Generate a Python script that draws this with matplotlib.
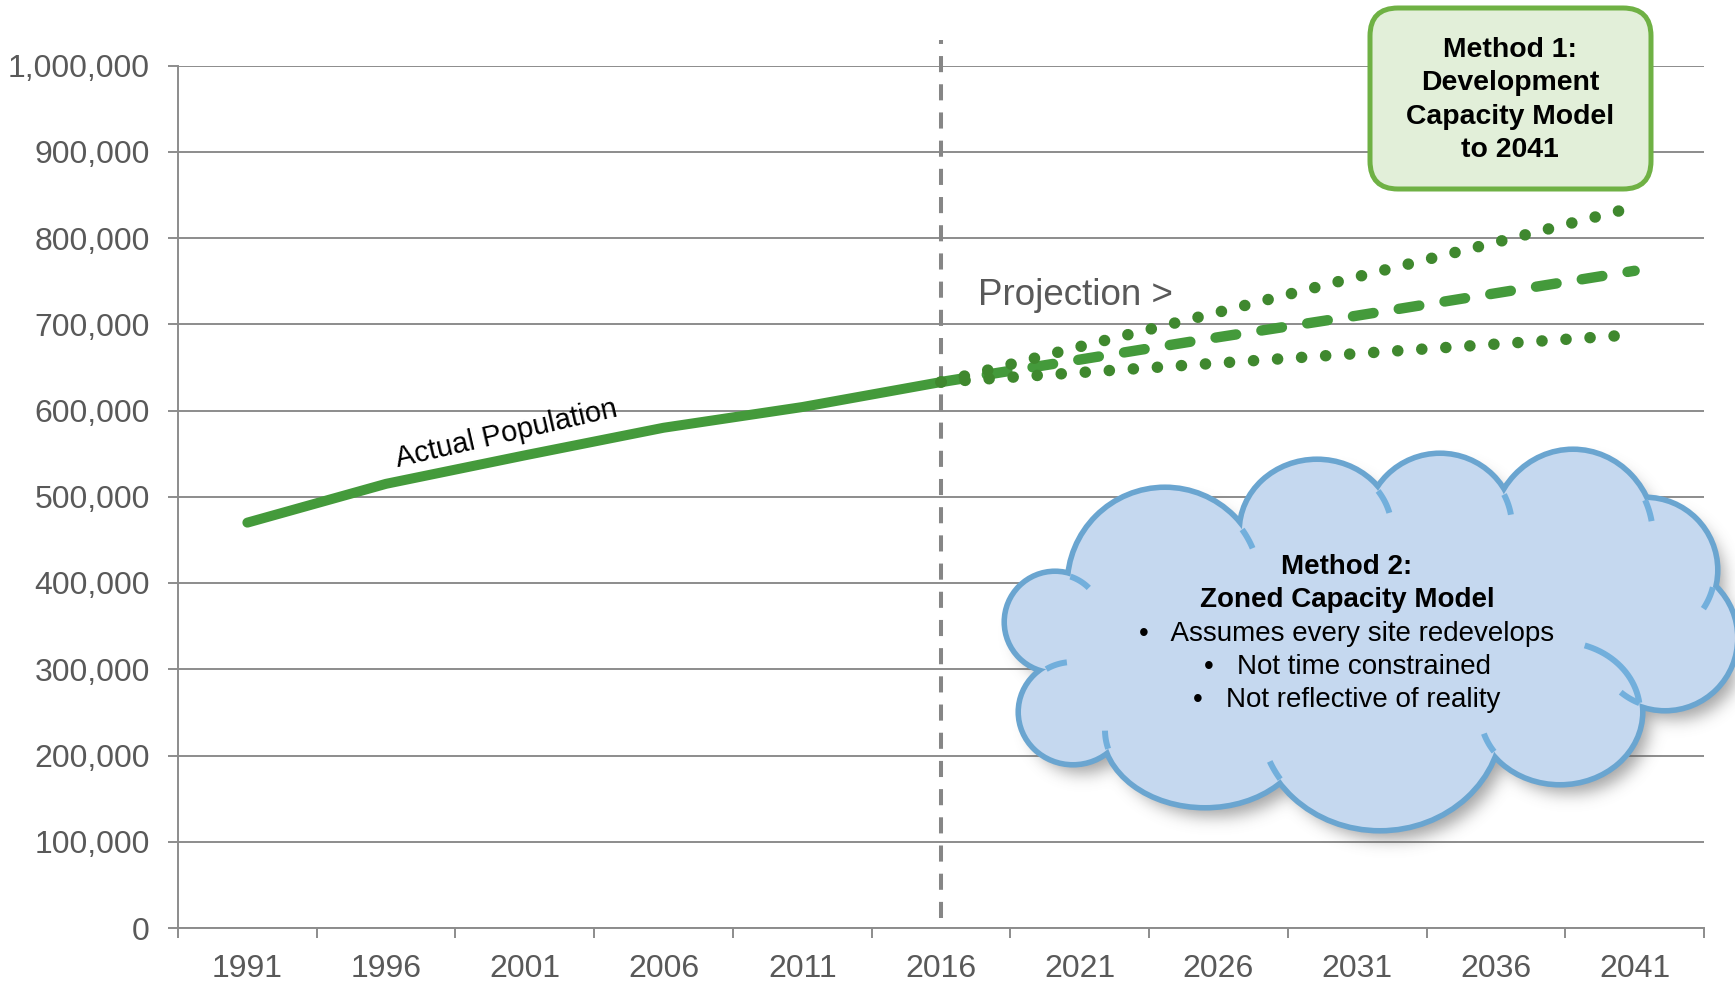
import numpy as np
import matplotlib
matplotlib.use("Agg")
import matplotlib.pyplot as plt
from matplotlib.patches import Ellipse, FancyBboxPatch
from matplotlib.ticker import FuncFormatter, FixedLocator

plt.rcParams['font.family'] = ['Liberation Sans', 'DejaVu Sans']

# ---- data ----
years = ['1991', '1996', '2001', '2006', '2011', '2016',
         '2021', '2026', '2031', '2036', '2041']
actual = [470000, 515000, 548000, 580000, 604000, 633000]
proj_mid = [633000, 659000, 685000, 710000, 736000, 762000]
proj_high = [633000, 674000, 714000, 755000, 795000, 836000]
proj_low = [633000, 644000, 655000, 666000, 677000, 688000]
yticks = list(range(0, 1000001, 100000))

W, H = 1735, 982
fig = plt.figure(figsize=(W / 100, H / 100), dpi=100)
ax = fig.add_axes([178 / W, 1 - 928 / H, (1704 - 178) / W, (928 - 65.5) / H])

grey = '#8c8c8c'
green = '#449a3b'
dot_green = '#3f882e'

x_act = np.arange(len(actual))
x_proj = np.arange(len(actual) - 1, len(years))

ax.plot(x_act, actual, color=green, lw=7.2, solid_capstyle='round', zorder=4)
ax.plot(x_proj, proj_mid, color=green, lw=7.5, ls=(0, (2.0, 2.45)),
        dash_capstyle='round', zorder=4)
ax.plot(x_proj, proj_high, color=dot_green, lw=8.3, ls=(0, (0.01, 2.08)),
        dash_capstyle='round', zorder=4)
ax.plot(x_proj, proj_low, color=dot_green, lw=8.3, ls=(0, (0.01, 2.08)),
        dash_capstyle='round', zorder=4)

# divider between actual and projected years
ax.plot([5, 5], [12000, 1030000], color='#868686', lw=2.9,
        ls=(0, (4, 3)), clip_on=False, zorder=3)

ax.set_xlim(-0.5, len(years) - 0.5)
ax.set_ylim(0, 1000000)
ax.set_yticks(yticks)
ax.yaxis.set_major_formatter(FuncFormatter(lambda v, p: f'{int(v):,}'))
ax.set_xticks(np.arange(len(years)))
ax.set_xticklabels(years)
ax.xaxis.set_minor_locator(FixedLocator(np.arange(len(years) + 1) - 0.5))

ax.tick_params(axis='x', which='major', length=0, pad=18.5,
               labelsize=23, labelcolor='#595959')
ax.tick_params(axis='x', which='minor', length=7, width=1.4, color=grey,
               direction='out')
ax.tick_params(axis='y', length=7.2, width=1.4, color=grey, pad=13,
               labelsize=23, labelcolor='#595959')

ax.yaxis.grid(True, color=grey, lw=1.4)
ax.set_axisbelow(True)
for s in ['top', 'right']:
    ax.spines[s].set_visible(False)
for s in ['left', 'bottom']:
    ax.spines[s].set_color(grey)
    ax.spines[s].set_linewidth(1.4)

ax.text(1.87, 573000, 'Actual Population', fontsize=21, rotation=13,
        rotation_mode='anchor', ha='center', va='center', color='black')
ax.text(5.265, 722000, 'Projection >', fontsize=26.5, color='#595959',
        ha='left', va='baseline')

# ---- overlay in pixel units for the callouts ----
ov = fig.add_axes([0, 0, 1, 1], zorder=5)
ov.set_xlim(0, W)
ov.set_ylim(H, 0)
ov.axis('off')
ov.patch.set_alpha(0)

# Method 1 box
ov.add_patch(FancyBboxPatch((1370, 8), 281, 181,
                            boxstyle='round,pad=0,rounding_size=28',
                            fc='#e2efd9', ec='#6fb144', lw=3.6))
ov.text(1510, 100, 'Method 1:\nDevelopment\nCapacity Model\nto 2041',
        fontsize=20.4, fontweight='bold', ha='center', va='center',
        linespacing=1.38, color='black')

# Method 2 cloud built from overlapping ellipses (cx, cy, w, h)
bumps = [
    (1055, 622, 96, 96),     # left
    (1073, 712, 104, 100),   # lower left
    (1205, 730, 200, 150),   # bottom left
    (1380, 718, 240, 220),   # bottom middle
    (1560, 712, 160, 140),   # bottom right
    (1665, 638, 140, 140),   # lower right
    (1645, 570, 140, 140),   # upper right
    (1573, 537, 160, 170),   # top right
    (1440, 527, 144, 142),   # top
    (1317, 531, 150, 138),   # top middle
    (1165, 585, 190, 190),   # top left
    (1370, 640, 600, 240),   # body
]
# how far (px) each bump outline runs on into the cloud at its ends
tail_fwd = [22, 22, 22, 22, 22, 22, 24, 22, 22, 26, 22]
tail_back = [0, 0, 0, 0, 85, 0, 0, 0, 0, 0, 0]


def inside(px, py, e):
    cx, cy, w, h = e
    return ((px - cx) / (w / 2)) ** 2 + ((py - cy) / (h / 2)) ** 2 < 1


# soft drop shadow
yy, xx = np.mgrid[0:H, 0:W]
mask = np.zeros((H, W))
for e in bumps:
    mask[inside(xx - 9, yy - 11, e)] = 1
k = np.exp(-0.5 * (np.arange(-24, 25) / 8.0) ** 2)
k /= k.sum()
mask = np.apply_along_axis(lambda r: np.convolve(r, k, mode='same'), 1, mask)
mask = np.apply_along_axis(lambda c: np.convolve(c, k, mode='same'), 0, mask)
shadow = np.zeros((H, W, 4))
shadow[..., :3] = 0.35
shadow[..., 3] = mask * 0.55
ov.imshow(shadow, extent=[0, W, H, 0], zorder=1, interpolation='bilinear')

cloud_edge = '#72afdc'
cloud_fill = '#c5d8ef'
for cx, cy, w, h in bumps:
    ov.add_patch(Ellipse((cx, cy), w, h, fc=cloud_edge, ec='#6aa5d0',
                         lw=8, zorder=2))
for cx, cy, w, h in bumps:
    ov.add_patch(Ellipse((cx, cy), w, h, fc=cloud_fill, ec='none', zorder=3))

# inner strokes: each bump's outline carried a little way past the junctions
N = 1440
th = np.linspace(0, 2 * np.pi, N, endpoint=False)
for i, e in enumerate(bumps[:-1]):
    cx, cy, w, h = e
    px = cx + w / 2 * np.cos(th)
    py = cy + h / 2 * np.sin(th)
    hid = np.zeros(N, bool)
    for j, o in enumerate(bumps):
        if j != i:
            hid |= inside(px, py, o)
    ds = (w + h) / 4 * 2 * np.pi / N
    for start, length, step in [(~np.roll(hid, 1) & hid, tail_fwd[i], 1),
                                (~np.roll(hid, -1) & hid, tail_back[i], -1)]:
        n = int(length / ds)
        if n < 2:
            continue
        for kk in np.where(start)[0]:
            idx = (kk + step * np.arange(n)) % N
            cut = np.argmax(~hid[idx]) if (~hid[idx]).any() else n
            idx = idx[:cut]
            if len(idx) > 1:
                ov.plot(px[idx], py[idx], color=cloud_edge, lw=4.3,
                        solid_capstyle='butt', zorder=4)

lines = [('Method 2:', 'bold'), ('Zoned Capacity Model', 'bold'),
         ('\u2022   Assumes every site redevelops', 'normal'),
         ('\u2022   Not time constrained', 'normal'),
         ('\u2022   Not reflective of reality', 'normal')]
for i, (txt, wt) in enumerate(lines):
    ov.text(1347, 567 + i * 33.3, txt, fontsize=20, fontweight=wt,
            ha='center', va='center', color='black', zorder=6)

fig.savefig('out.png', dpi=100)
